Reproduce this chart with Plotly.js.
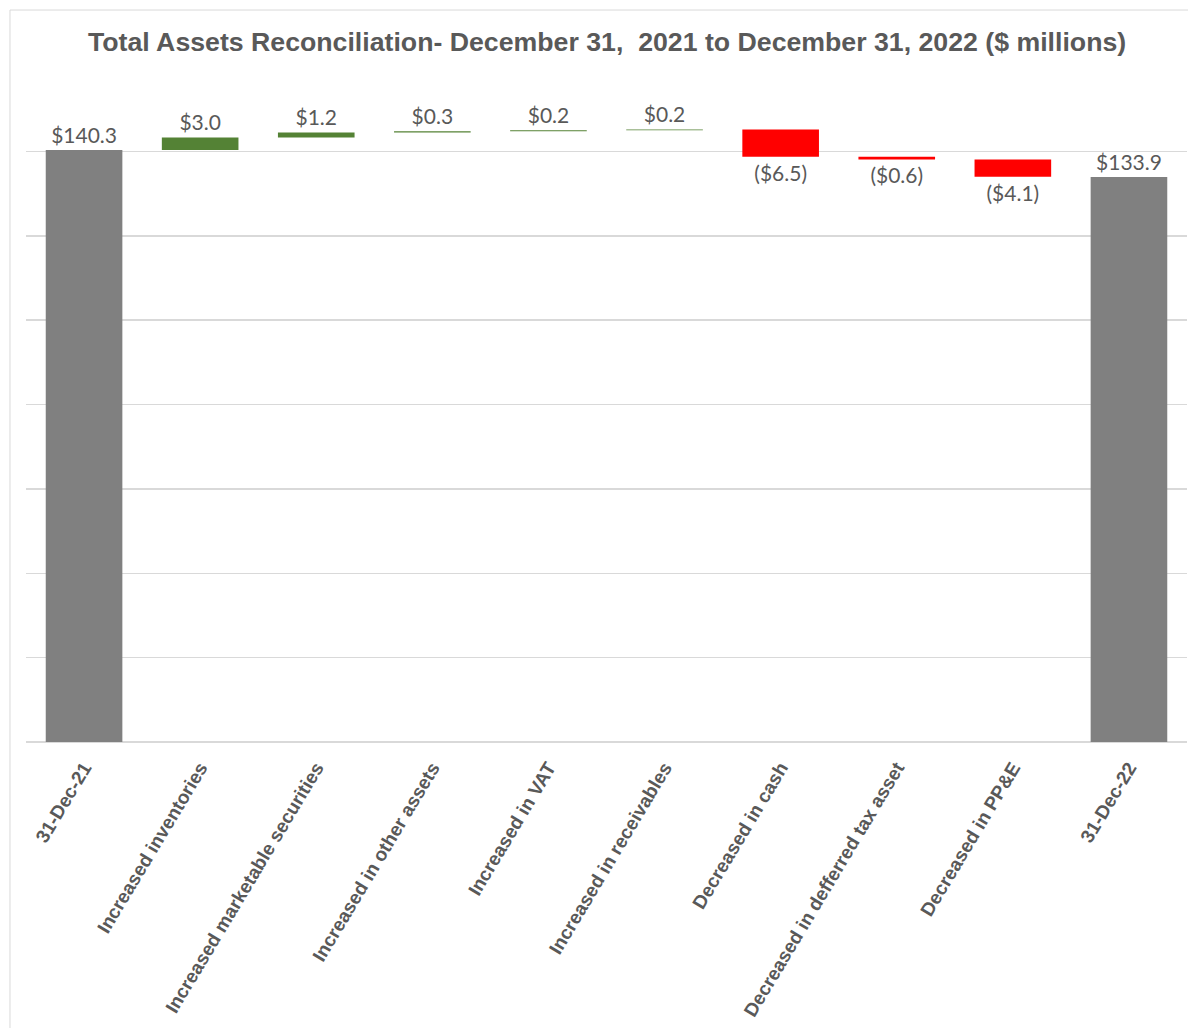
<!DOCTYPE html>
<html>
<head>
<meta charset="utf-8">
<script src="https://cdn.plot.ly/plotly-3.0.1.min.js"></script>
<style>html,body{margin:0;padding:0;background:#fff;}#chart{width:1188px;height:1028px;}</style>
</head>
<body>
<div id="chart"></div>
<script>
const categories = ["31-Dec-21","Increased inventories","Increased marketable securities","Increased in other assets","Increased in VAT","Increased in receivables","Decreased in cash","Decreased in defferred tax asset","Decreased in PP&E","31-Dec-22"];
const values = [140.3, 3.0, 1.2, 0.3, 0.2, 0.2, -6.5, -0.6, -4.1, 133.9];
const measures = ["absolute","relative","relative","relative","relative","relative","relative","relative","relative","absolute"];

function fmt(v){ return v < 0 ? "($" + Math.abs(v).toFixed(1) + ")" : "$" + v.toFixed(1); }
const labels = values.map(fmt);

const trace = {
  type: "waterfall",
  x: categories,
  y: values,
  measure: measures,
  text: labels,
  textposition: "outside",
  textfont: {family: "Lato, 'Open Sans', sans-serif", size: 21, color: "#595959"},
  cliponaxis: false,
  increasing: {marker: {color: "#548235"}},
  decreasing: {marker: {color: "#FF0000"}},
  totals: {marker: {color: "#808080"}},
  connector: {visible: false},
  hoverinfo: "x+y"
};

const layout = {
  width: 1188, height: 1028,
  margin: {l: 26, r: 1, t: 67, b: 286},
  paper_bgcolor: "#ffffff",
  plot_bgcolor: "#ffffff",
  showlegend: false,
  waterfallgap: 0.34,
  title: {
    text: "<b>Total Assets Reconciliation- December 31,\u00a0 2021 to December 31, 2022 ($ millions)</b>",
    font: {family: "Liberation Sans, Arial, sans-serif", size: 26.7, color: "#595959"},
    x: 0.511, xanchor: "center", y: 0.959, yanchor: "middle"
  },
  xaxis: {
    type: "category",
    tickangle: -59,
    ticklabelstandoff: 10,
    tickfont: {family: "Liberation Sans, Arial, sans-serif", size: 19, color: "#595959", weight: "bold"},
    showgrid: false, zeroline: false, showline: false, ticks: ""
  },
  yaxis: {
    range: [0, 160],
    dtick: 20,
    showticklabels: false,
    showgrid: true,
    gridcolor: "#d9d9d9",
    gridwidth: 1.5,
    zeroline: true,
    zerolinecolor: "#d9d9d9",
    zerolinewidth: 1.5,
    showline: false,
    ticks: ""
  },
  shapes: [{
    type: "rect", xref: "paper", yref: "paper",
    x0: -0.0138, x1: 1.05, y0: -0.425, y1: 1.0844,
    line: {color: "#d9d9d9", width: 1}, fillcolor: "rgba(0,0,0,0)", layer: "below"
  }]
};

Plotly.newPlot("chart", [trace], layout, {displayModeBar: false, staticPlot: true});
</script>
</body>
</html>
